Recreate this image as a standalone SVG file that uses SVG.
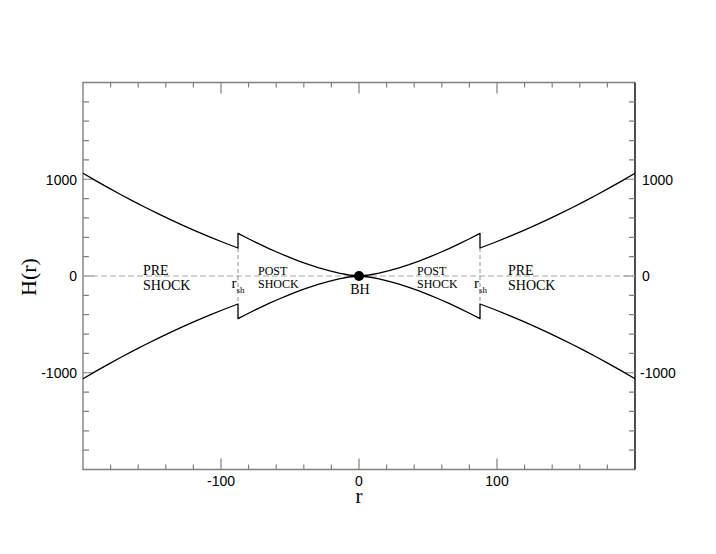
<svg xmlns="http://www.w3.org/2000/svg" xmlns:xlink="http://www.w3.org/1999/xlink" width="716" height="554" viewBox="0 0 716 554">
<style>
.tick{stroke:#808080;stroke-width:1.2;fill:none}
.frame{stroke:#808080;stroke-width:1.4;fill:none}
.curve{stroke:#000;stroke-width:1.3;fill:none;stroke-linejoin:round}
.dash{stroke:#a8a8a8;stroke-width:1.2;stroke-dasharray:6 3;fill:none}
.vdash{stroke:#909090;stroke-width:1;stroke-dasharray:4 3;fill:none}
.num{font-family:"Liberation Sans",Arial,sans-serif;font-size:14px;fill:#000}
.ser{font-family:"Liberation Serif","Times New Roman",serif;fill:#000}
</style>
<defs>
<path id="ul" class="curve" d="M83,173.3 L96.5,181.1 L109,188.1 L121.5,195 L134,201.6 L146.5,208 L159,214.2 L171.5,220.2 L184,225.9 L196.5,231.4 L209,236.7 L223.5,242.5 L238,248 L238,233.3 L249,239 L259,243.9 L269,248.6 L279,253 L289,257.2 L299,261.1 L309,264.7 L319,267.9 L329,270.7 L339,273.1 L349,275 L359,276"/>
</defs>
<rect width="716" height="554" fill="#fff"/>
<g id="axes">
<path class="frame" d="M635,82.5 H83 V469.5 H635"/>
<path d="M635,82.5 V469.5" stroke="#000" stroke-width="1.4"/>
<path class="tick" d="M110.6,469.5v-5M138.2,469.5v-5M165.8,469.5v-5M193.4,469.5v-5M248.6,469.5v-5M276.2,469.5v-5M303.8,469.5v-5M331.4,469.5v-5M386.6,469.5v-5M414.2,469.5v-5M441.8,469.5v-5M469.4,469.5v-5M524.6,469.5v-5M552.2,469.5v-5M579.8,469.5v-5M607.4,469.5v-5M221,469.5v-11M359,469.5v-11M497,469.5v-11
M110.6,82.5v5M138.2,82.5v5M165.8,82.5v5M193.4,82.5v5M248.6,82.5v5M276.2,82.5v5M303.8,82.5v5M331.4,82.5v5M386.6,82.5v5M414.2,82.5v5M441.8,82.5v5M469.4,82.5v5M524.6,82.5v5M552.2,82.5v5M579.8,82.5v5M607.4,82.5v5M221,82.5v11M359,82.5v11M497,82.5v11
M83,101.85h6M83,121.2h6M83,140.55h6M83,159.9h6M83,198.6h6M83,217.95h6M83,237.3h6M83,256.65h6M83,295.35h6M83,314.7h6M83,334.05h6M83,353.4h6M83,392.1h6M83,411.45h6M83,430.8h6M83,450.15h6M83,179.25h11M83,276h11M83,372.75h11
M635,101.85h-6M635,121.2h-6M635,140.55h-6M635,159.9h-6M635,198.6h-6M635,217.95h-6M635,237.3h-6M635,256.65h-6M635,295.35h-6M635,314.7h-6M635,334.05h-6M635,353.4h-6M635,392.1h-6M635,411.45h-6M635,430.8h-6M635,450.15h-6M635,179.25h-11M635,276h-11M635,372.75h-11"/>
<g class="num">
<text x="77" y="184.5" text-anchor="end">1000</text>
<text x="77" y="281" text-anchor="end">0</text>
<text x="77" y="378" text-anchor="end">-1000</text>
<text x="642" y="184.5">1000</text>
<text x="642" y="281">0</text>
<text x="640" y="378">-1000</text>
<text x="221" y="486" text-anchor="middle">-100</text>
<text x="359" y="486" text-anchor="middle">0</text>
<text x="497" y="486" text-anchor="middle">100</text>
</g>
<text class="ser" x="359" y="503" font-size="21" text-anchor="middle">r</text>
<text class="ser" transform="translate(36,277) rotate(-90)" font-size="22" text-anchor="middle">H(r)</text>
</g>
<g id="connectors">
<path class="dash" d="M83,276 H635"/>
<path class="vdash" d="M238,248 V304 M480,248 V304"/>
</g>
<g id="flow">
<use xlink:href="#ul"/>
<use xlink:href="#ul" transform="matrix(-1 0 0 1 718 0)"/>
<use xlink:href="#ul" transform="matrix(1 0 0 -1 0 552)"/>
<use xlink:href="#ul" transform="matrix(-1 0 0 -1 718 552)"/>
</g>
<g id="bh">
<circle cx="359" cy="276" r="5" fill="#000"/>
<text class="ser" x="360" y="294" font-size="14" text-anchor="middle">BH</text>
</g>
<g id="labels-left" class="ser">
<text x="143" y="274.5" font-size="14">PRE</text>
<text x="143" y="290" font-size="14">SHOCK</text>
<text x="258" y="274.5" font-size="12">POST</text>
<text x="258" y="287.5" font-size="12">SHOCK</text>
<text x="231.5" y="288" font-size="15">r<tspan font-size="9" dy="5">sh</tspan></text>
</g>
<g id="labels-right" class="ser">
<text x="508" y="274.5" font-size="14">PRE</text>
<text x="508" y="290" font-size="14">SHOCK</text>
<text x="417" y="274.5" font-size="12">POST</text>
<text x="417" y="287.5" font-size="12">SHOCK</text>
<text x="474" y="288" font-size="15">r<tspan font-size="9" dy="5">sh</tspan></text>
</g>
</svg>
